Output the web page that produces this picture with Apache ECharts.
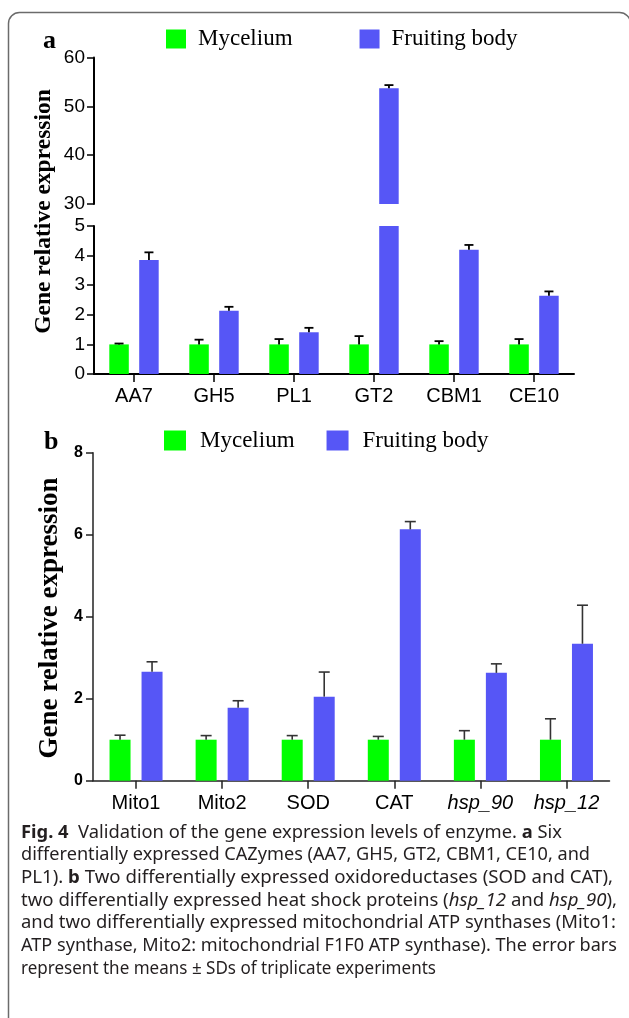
<!DOCTYPE html>
<html>
<head>
<meta charset="utf-8">
<script src="https://cdn.jsdelivr.net/npm/echarts@6/dist/echarts.min.js"></script>
<style>
html,body{margin:0;padding:0;background:#fff;}
#chart{width:629px;height:1018px;}
</style>
</head>
<body>
<div id="chart"></div>
<script>
// ---------- data ----------
const catsA = ['AA7', 'GH5', 'PL1', 'GT2', 'CBM1', 'CE10'];
const myceliumA = [1, 1, 1, 1, 1, 1];
const myceliumAErr = [0.03, 0.16, 0.18, 0.28, 0.11, 0.18];
const fruitingA = [3.85, 2.14, 1.41, 53.7, 4.2, 2.64];
const fruitingAErr = [0.26, 0.13, 0.15, 0.65, 0.16, 0.15];

const catsB = ['Mito1', 'Mito2', 'SOD', 'CAT', 'hsp_90', 'hsp_12'];
const myceliumB = [1, 1, 1, 1, 1, 1];
const myceliumBErr = [0.11, 0.10, 0.10, 0.08, 0.22, 0.51];
const fruitingB = [2.66, 1.78, 2.05, 6.13, 2.63, 3.34];
const fruitingBErr = [0.24, 0.17, 0.60, 0.19, 0.22, 0.94];

const seriesNames = ['Mycelium', 'Fruiting body'];
const yTitle = 'Gene relative expression';
const captionLines = [
  '{b|Fig. 4}  Validation of the gene expression levels of enzyme. {b|a} Six',
  'differentially expressed CAZymes (AA7, GH5, GT2, CBM1, CE10, and',
  'PL1). {b|b} Two differentially expressed oxidoreductases (SOD and CAT),',
  'two differentially expressed heat shock proteins ({i|hsp_12} and {i|hsp_90}),',
  'and two differentially expressed mitochondrial ATP synthases (Mito1:',
  'ATP synthase, Mito2: mitochondrial F1F0 ATP synthase). The error bars',
  'represent the means \u00b1 SDs of triplicate experiments'
];

// ---------- styles / layout ----------
const GREEN = '#00FF00';
const BLUE = '#5656F6';
const SANS = '"Liberation Sans", Arial, sans-serif';
const NARROW = '"Liberation Sans Narrow", "Liberation Sans", Arial, sans-serif';
const SERIF = '"Liberation Serif", "Times New Roman", serif';
const CAPFONT = '"Noto Sans", "Open Sans", sans-serif';
const CAPSIZE = 18;
const CAP_LEFT = 21;
const CAP_RIGHT = [562, 590, 613, 617, 616, 617, 436]; // right edge of each caption line in the reference

const BW_A = 19.5, GAP_A = 10.4;
const BW_B = 21, GAP_B = 11;

function errRenderer(offset, capHalf, color, lw) {
  return function (params, api) {
    const i = api.value(0), v = api.value(1), e = api.value(2);
    const p0 = api.coord([i, v]);
    const p1 = api.coord([i, v + e]);
    const cs = params.coordSys;
    if (p0[1] < cs.y - 0.5 || p0[1] > cs.y + cs.height + 0.5) return null;
    if (p1[1] < cs.y - 0.5) return null;
    const x = p0[0] + offset;
    const st = { stroke: color, lineWidth: lw };
    return {
      type: 'group',
      children: [
        { type: 'line', shape: { x1: x, y1: p0[1], x2: x, y2: p1[1] }, style: st },
        { type: 'line', shape: { x1: x - capHalf, y1: p1[1], x2: x + capHalf, y2: p1[1] }, style: st }
      ]
    };
  };
}
function errData(vals, errs) { return vals.map((v, i) => [i, v, errs[i]]); }

// caption: horizontal scale per line so the (condensed) reference line lengths are matched
const mctx = document.createElement('canvas').getContext('2d');
function richLineWidth(line) {
  let w = 0, m;
  const re = /\{(\w)\|([^}]*)\}|([^{]+)/g;
  while ((m = re.exec(line))) {
    if (m[3] !== undefined) {
      mctx.font = CAPSIZE + 'px ' + CAPFONT;
      w += mctx.measureText(m[3]).width;
    } else {
      mctx.font = (m[1] === 'b' ? 'bold ' : 'italic ') + CAPSIZE + 'px ' + CAPFONT;
      w += mctx.measureText(m[2]).width;
    }
  }
  return w;
}

const capRich = {
  b: { fontWeight: 'bold', fontSize: CAPSIZE, fontFamily: CAPFONT, fill: '#231f20' },
  i: { fontStyle: 'italic', fontSize: CAPSIZE, fontFamily: CAPFONT, fill: '#231f20' }
};

const yAxisCommonA = {
  type: 'value',
  axisLine: { show: true, lineStyle: { color: '#000', width: 2 } },
  axisTick: { show: true, length: 7, lineStyle: { color: '#000', width: 1.5 } },
  axisLabel: { color: '#000', fontSize: 19, fontFamily: SANS, margin: 9 },
  splitLine: { show: false }
};

const option = {
  animation: false,
  backgroundColor: '#fff',
  grid: [
    { left: 94, top: 57.5, width: 480, height: 146.5, outerBoundsMode: 'none' },
    { left: 94, top: 226, width: 480, height: 148, outerBoundsMode: 'none' },
    { left: 93, top: 452.7, width: 516.5, height: 328, outerBoundsMode: 'none' }
  ],
  legend: [
    {
      data: seriesNames, left: 166, top: 27.5, padding: 0, icon: 'rect',
      itemWidth: 20, itemHeight: 19, itemGap: 67, selectedMode: false,
      textStyle: { fontFamily: SERIF, fontSize: 23, color: '#000', padding: [0, 0, 0, 7] }
    },
    {
      data: seriesNames, left: 164, top: 429, padding: 0, icon: 'rect',
      itemWidth: 22, itemHeight: 20, itemGap: 32, selectedMode: false,
      textStyle: { fontFamily: SERIF, fontSize: 23, color: '#000', padding: [0, 0, 0, 9] }
    }
  ],
  xAxis: [
    { type: 'category', gridIndex: 0, data: catsA, show: false },
    {
      type: 'category', gridIndex: 1, data: catsA, boundaryGap: true,
      axisLine: { show: true, lineStyle: { color: '#000', width: 2 } },
      axisTick: { show: true, alignWithLabel: true, interval: 0, length: 8, lineStyle: { color: '#000', width: 1.5 } },
      axisLabel: { color: '#000', fontSize: 20, fontFamily: SANS, margin: 12, interval: 0 },
      splitLine: { show: false }
    },
    {
      type: 'category', gridIndex: 2, data: catsB, boundaryGap: true,
      axisLine: { show: true, lineStyle: { color: '#222', width: 1.5 } },
      axisTick: { show: true, alignWithLabel: true, interval: 0, length: 8, lineStyle: { color: '#222', width: 1.5 } },
      axisLabel: {
        color: '#000', fontSize: 20, fontFamily: SANS, margin: 13, interval: 0,
        formatter: function (v) { return v.indexOf('hsp') === 0 ? '{i|' + v + '}' : v; },
        rich: { i: { fontStyle: 'italic', fontSize: 20, fontFamily: SANS, color: '#000' } }
      },
      splitLine: { show: false }
    }
  ],
  yAxis: [
    Object.assign({}, yAxisCommonA, { gridIndex: 0, min: 30, max: 60, interval: 10 }),
    Object.assign({}, yAxisCommonA, { gridIndex: 1, min: 0, max: 5, interval: 1 }),
    {
      type: 'value', gridIndex: 2, min: 0, max: 8, interval: 2,
      axisLine: { show: true, lineStyle: { color: '#222', width: 1.5 } },
      axisTick: { show: true, length: 7, lineStyle: { color: '#222', width: 1.5 } },
      axisLabel: { color: '#000', fontSize: 16, fontWeight: 'bold', fontFamily: NARROW, margin: 10 },
      splitLine: { show: false }
    }
  ],
  series: [
    { type: 'bar', name: seriesNames[0], xAxisIndex: 1, yAxisIndex: 1, data: myceliumA, barWidth: BW_A, barGap: (GAP_A / BW_A * 100).toFixed(1) + '%', itemStyle: { color: GREEN }, clip: true },
    { type: 'bar', name: seriesNames[1], xAxisIndex: 1, yAxisIndex: 1, data: fruitingA, barWidth: BW_A, barGap: (GAP_A / BW_A * 100).toFixed(1) + '%', itemStyle: { color: BLUE }, clip: true },
    { type: 'bar', name: seriesNames[0], xAxisIndex: 0, yAxisIndex: 0, data: myceliumA, barWidth: BW_A, barGap: (GAP_A / BW_A * 100).toFixed(1) + '%', itemStyle: { color: GREEN }, clip: true },
    { type: 'bar', name: seriesNames[1], xAxisIndex: 0, yAxisIndex: 0, data: fruitingA, barWidth: BW_A, barGap: (GAP_A / BW_A * 100).toFixed(1) + '%', itemStyle: { color: BLUE }, clip: true },
    { type: 'bar', name: seriesNames[0], xAxisIndex: 2, yAxisIndex: 2, data: myceliumB, barWidth: BW_B, barGap: (GAP_B / BW_B * 100).toFixed(1) + '%', itemStyle: { color: GREEN }, clip: true },
    { type: 'bar', name: seriesNames[1], xAxisIndex: 2, yAxisIndex: 2, data: fruitingB, barWidth: BW_B, barGap: (GAP_B / BW_B * 100).toFixed(1) + '%', itemStyle: { color: BLUE }, clip: true },

    { type: 'custom', name: 'errA0', xAxisIndex: 1, yAxisIndex: 1, data: errData(myceliumA, myceliumAErr), encode: { x: 0, y: 1 }, renderItem: errRenderer(-(BW_A + GAP_A) / 2, 4.5, '#000', 1.8), z: 3 },
    { type: 'custom', name: 'errA1', xAxisIndex: 1, yAxisIndex: 1, data: errData(fruitingA, fruitingAErr), encode: { x: 0, y: 1 }, renderItem: errRenderer((BW_A + GAP_A) / 2, 4.5, '#000', 1.8), z: 3 },
    { type: 'custom', name: 'errA2', xAxisIndex: 0, yAxisIndex: 0, data: errData(myceliumA, myceliumAErr), encode: { x: 0, y: 1 }, renderItem: errRenderer(-(BW_A + GAP_A) / 2, 4.5, '#000', 1.8), z: 3 },
    { type: 'custom', name: 'errA3', xAxisIndex: 0, yAxisIndex: 0, data: errData(fruitingA, fruitingAErr), encode: { x: 0, y: 1 }, renderItem: errRenderer((BW_A + GAP_A) / 2, 4.5, '#000', 1.8), z: 3 },
    { type: 'custom', name: 'errB0', xAxisIndex: 2, yAxisIndex: 2, data: errData(myceliumB, myceliumBErr), encode: { x: 0, y: 1 }, renderItem: errRenderer(-(BW_B + GAP_B) / 2, 5.5, '#333', 1.6), z: 3 },
    { type: 'custom', name: 'errB1', xAxisIndex: 2, yAxisIndex: 2, data: errData(fruitingB, fruitingBErr), encode: { x: 0, y: 1 }, renderItem: errRenderer((BW_B + GAP_B) / 2, 5.5, '#333', 1.6), z: 3 }
  ],
  graphic: [
    { type: 'rect', shape: { x: 8.5, y: 12.5, width: 622, height: 1100, r: 11 }, style: { fill: 'none', stroke: '#6b6b6b', lineWidth: 1.5 }, silent: true },
    { type: 'text', x: 43, y: 41, style: { text: 'a', fontFamily: SERIF, fontWeight: 'bold', fontSize: 26, fill: '#000', align: 'left', verticalAlign: 'middle' } },
    { type: 'text', x: 44, y: 442, style: { text: 'b', fontFamily: SERIF, fontWeight: 'bold', fontSize: 26, fill: '#000', align: 'left', verticalAlign: 'middle' } },
    { type: 'text', x: 44, y: 211.5, rotation: Math.PI / 2, style: { text: yTitle, fontFamily: SERIF, fontWeight: 'bold', fontSize: 23.5, fill: '#000', align: 'center', verticalAlign: 'middle' } },
    { type: 'text', x: 50, y: 618, rotation: Math.PI / 2, style: { text: yTitle, fontFamily: SERIF, fontWeight: 'bold', fontSize: 27, fill: '#000', align: 'center', verticalAlign: 'middle' } }
  ].concat(captionLines.map(function (line, k) {
    const s = (CAP_RIGHT[k] - CAP_LEFT) / richLineWidth(line);
    return {
      type: 'text', x: CAP_LEFT, y: 832.5 + 22.7 * k, scaleX: s, scaleY: 1,
      style: { text: line, rich: capRich, fontFamily: CAPFONT, fontSize: CAPSIZE, fill: '#231f20', align: 'left', verticalAlign: 'middle' }
    };
  }))
};

const chart = echarts.init(document.getElementById('chart'), null, { renderer: 'canvas', width: 629, height: 1018 });
chart.setOption(option);
</script>
</body>
</html>
